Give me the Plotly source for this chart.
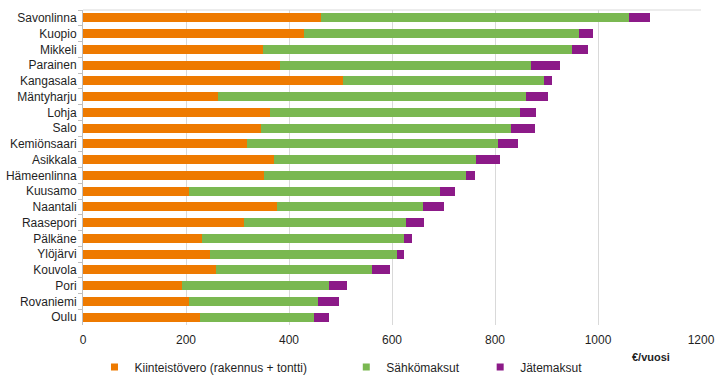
import plotly.graph_objects as go

categories = ["Savonlinna", "Kuopio", "Mikkeli", "Parainen", "Kangasala", "Mäntyharju",
              "Lohja", "Salo", "Kemiönsaari", "Asikkala", "Hämeenlinna", "Kuusamo",
              "Naantali", "Raasepori", "Pälkäne", "Ylöjärvi", "Kouvola", "Pori",
              "Rovaniemi", "Oulu"]

kiinteistovero = [462, 430, 350, 383, 505, 263, 363, 345, 319, 371, 352, 206,
                  376, 312, 232, 246, 259, 193, 206, 228]
sahkomaksut = [599, 533, 599, 486, 391, 598, 485, 487, 486, 392, 391, 487,
               284, 316, 391, 363, 303, 285, 250, 221]
jatemaksut = [39, 28, 31, 57, 14, 42, 32, 46, 40, 47, 18, 29,
              41, 34, 16, 15, 35, 34, 42, 29]

series_names = ["Kiinteistövero (rakennus + tontti)", "Sähkömaksut", "Jätemaksut"]
colors = ["#EE7A00", "#7AB851", "#8C1A88"]
x_ticks = [0, 200, 400, 600, 800, 1000, 1200]

FONT = "Liberation Sans, Arial, sans-serif"
TXT = "#1f1f1f"

fig = go.Figure()
all_vals = [kiinteistovero, sahkomaksut, jatemaksut]
for i, (name, vals) in enumerate(zip(series_names, all_vals)):
    fig.add_trace(go.Bar(
        y=categories, x=vals, name=name, orientation="h",
        marker=dict(color=colors[i], line=dict(width=0)),
        showlegend=False, hoverinfo="x+y+name",
    ))
# legend entries with small square symbols
for i, name in enumerate(series_names):
    fig.add_trace(go.Scatter(
        x=[None], y=[None], mode="markers", name=name,
        marker=dict(symbol="square", size=7, color=colors[i]),
        legend="legend" if i == 0 else f"legend{i+1}",
    ))

legend_common = dict(orientation="h", yanchor="middle", y=-0.133, xanchor="left",
                     font=dict(family=FONT, size=12, color=TXT),
                     bgcolor="rgba(0,0,0,0)", borderwidth=0, itemwidth=30)

PW = 618.5
fig.update_layout(
    barmode="stack",
    bargap=0.42,
    width=720, height=383,
    margin=dict(l=82.5, r=19, t=10, b=58, autoexpand=False),
    paper_bgcolor="white", plot_bgcolor="white",
    font=dict(family=FONT, size=12, color=TXT),
    xaxis=dict(range=[0, 1200], tickvals=x_ticks, showgrid=True, gridcolor="#D9D9D9",
               gridwidth=1, zeroline=False, showline=False, ticks="", automargin=False,
               tickfont=dict(family=FONT, size=12, color=TXT), ticklabelstandoff=6),
    yaxis=dict(autorange="reversed", showline=True, linecolor="#BFBFBF", linewidth=1,
               ticks="outside", tickson="boundaries", ticklen=4, tickcolor="#BFBFBF",
               showgrid=False, zeroline=False, automargin=False,
               tickfont=dict(family=FONT, size=12, color=TXT), ticklabelstandoff=3),
    legend=dict(x=(94 - 82.5) / PW, **legend_common),
    legend2=dict(x=(346 - 82.5) / PW, **legend_common),
    legend3=dict(x=(480 - 82.5) / PW, **legend_common),
    showlegend=True,
)

fig.add_shape(type="line", xref="paper", yref="paper", x0=0, x1=1, y0=1, y1=1,
              line=dict(color="#D9D9D9", width=1))

fig.add_annotation(text="<b>€/vuosi</b>", xref="paper", yref="paper",
                   x=(651 - 82.5) / PW, y=(325 - 357) / 315,
                   xanchor="center", yanchor="middle", showarrow=False,
                   font=dict(family=FONT, size=11, color=TXT))

fig.write_html("out.html", config={"displayModeBar": False},
               post_script="document.body.style.margin='0';")
